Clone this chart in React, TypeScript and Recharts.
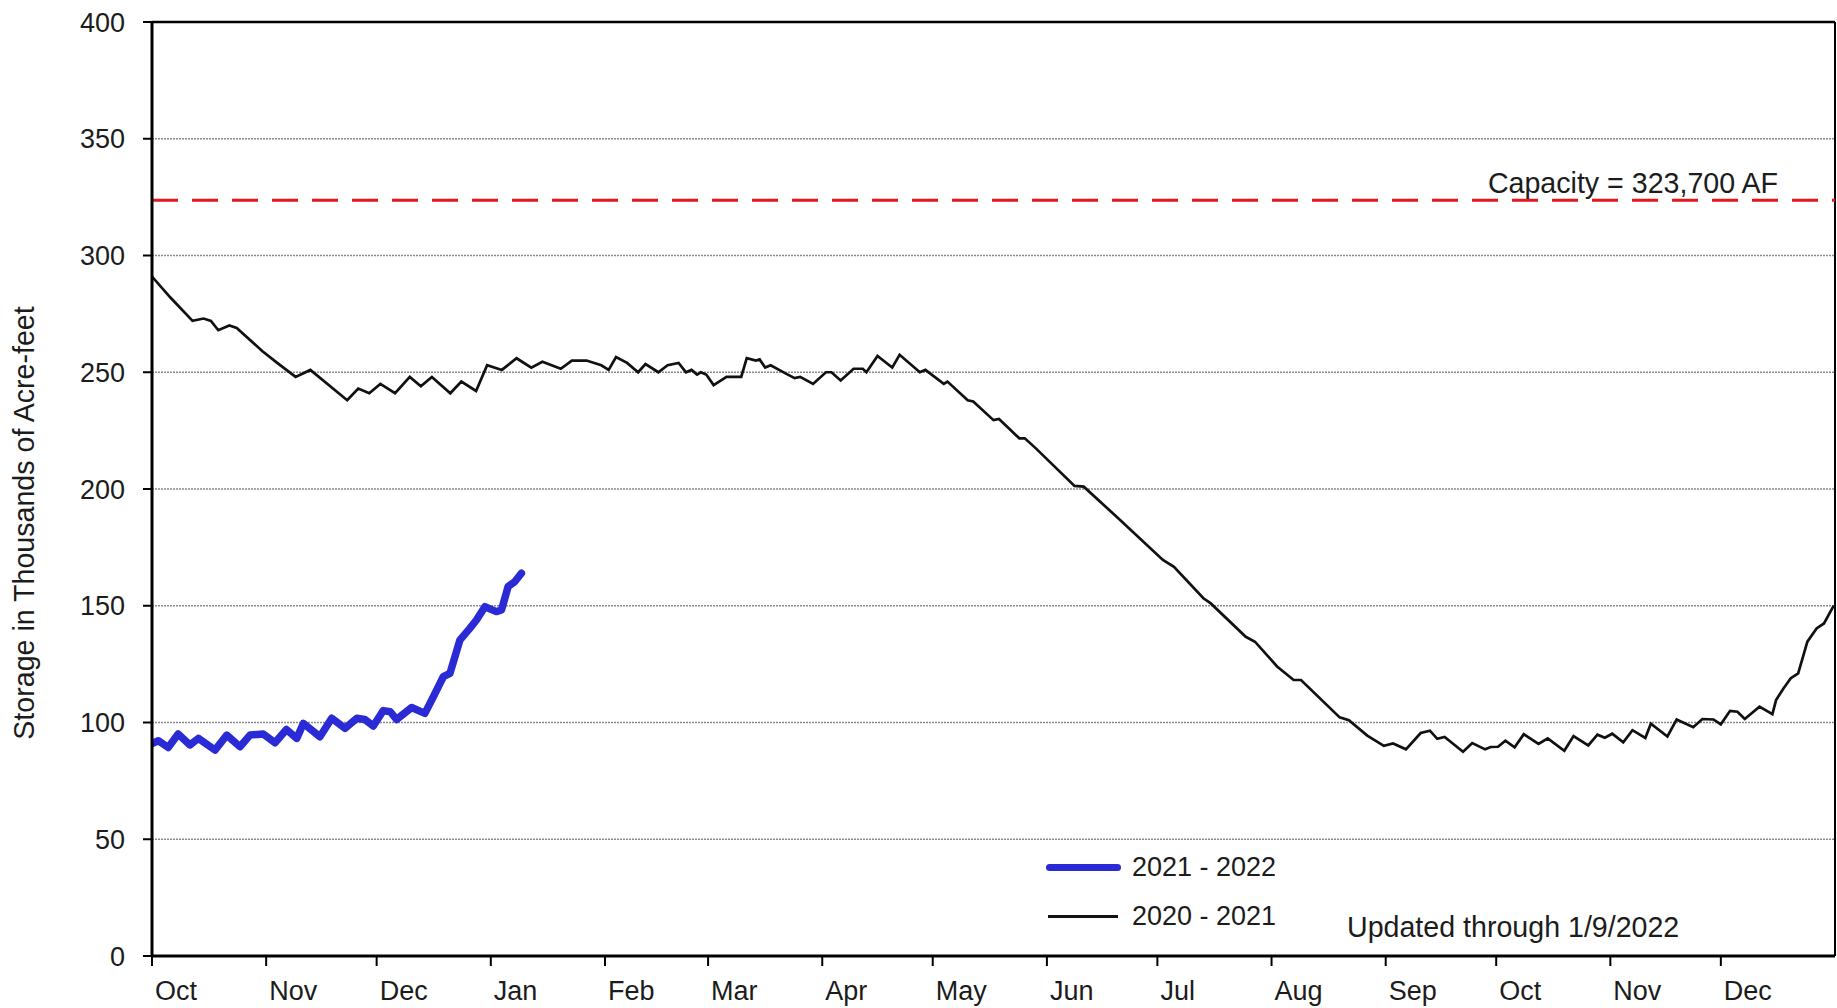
import { FC } from 'react';
import { LineChart, Line, XAxis, YAxis, CartesianGrid, ReferenceLine } from 'recharts';

// days counted from Oct 1 2020
const monthTicks = [0, 31, 61, 92, 123, 151, 182, 212, 243, 273, 304, 335, 365, 396, 426];
const monthLabels = ['Oct', 'Nov', 'Dec', 'Jan', 'Feb', 'Mar', 'Apr', 'May', 'Jun', 'Jul', 'Aug', 'Sep', 'Oct', 'Nov', 'Dec'];
const yTicks = [0, 50, 100, 150, 200, 250, 300, 350, 400];
const capacity = 323.7;

// 2020 - 2021 storage, [day, thousand AF]
const storage2020: [number, number][] = [
  [0, 291], [5, 282], [11, 272], [14, 273], [16, 272], [18, 268], [21, 270], [23, 269],
  [30, 259], [34, 254], [39, 248], [43, 251], [53, 238], [56, 243], [59, 241], [62, 245],
  [66, 241], [70, 248], [73, 244], [76, 248], [81, 241], [84, 246], [88, 242], [91, 253],
  [95, 251], [99, 256], [103, 252], [106, 254.5], [111, 251.5], [114, 255], [118, 255],
  [122, 253], [124, 251], [126, 256.5], [129, 254], [132, 250], [134, 253.5], [137.5, 250],
  [140, 253], [143, 254], [145, 250], [146.5, 251], [148, 249], [149, 250], [150.5, 249],
  [152.5, 244.5], [154, 246], [156, 248], [160, 248], [161.5, 256], [164, 255], [165, 255.5],
  [166.5, 252], [168, 253], [172, 249.5], [174.5, 247.5], [176, 248], [179.5, 245], [183, 250],
  [184.5, 250], [187, 246.5], [190.5, 251.5], [193, 251.5], [194, 250], [197, 257], [201, 252],
  [203, 257.5], [208.5, 250], [210, 251], [215, 245], [216, 246], [221.5, 238], [223, 237.5],
  [228.5, 229.5], [230, 230], [235.5, 221.7], [237, 221.7], [240, 217.4], [250.5, 201.3],
  [253, 201], [262, 188], [274.5, 169.6], [277.5, 166.7], [285.5, 153.2], [287.5, 151],
  [297, 136.7], [299.5, 134.6], [305.5, 124], [310, 118.2], [312, 118.2], [322.5, 102.2],
  [325, 101], [330, 94.4], [334.5, 90], [337, 91], [340.5, 88.5], [344.5, 95.5], [347, 96.5],
  [349, 93], [351, 93.8], [356, 87.5], [358.5, 91.2], [362, 88.5], [363.5, 89.5], [365.5, 89.6],
  [367.5, 92.2], [370, 89.4], [372.5, 95], [376.5, 90.8], [379, 93.2], [383.5, 87.9], [386, 94.2],
  [390, 90.2], [392.5, 94.8], [394.5, 93.5], [396.5, 95.2], [399.5, 91.5], [402, 96.7],
  [405.5, 93.4], [407, 99.5], [411.5, 94], [414, 101.3], [418.5, 98], [421, 101.5], [424, 101.3],
  [426, 99.2], [428.5, 105], [430.5, 104.6], [432.5, 101.5], [436.5, 106.8], [440, 103.6],
  [441, 109.6], [443, 114.6], [445, 119], [447, 121], [449.5, 134.6], [452, 140.3], [454, 142.4],
  [456.5, 149.6], [457, 150],
];

// 2021 - 2022 storage, [day from Oct 1 2021, thousand AF]
const storage2021: [number, number][] = [
  [0, 91], [1.7, 92.2], [4.4, 89.3], [7.1, 95.1], [10.3, 90.4], [12.6, 93.2], [17.1, 88.2],
  [20.3, 94.6], [23.9, 89.6], [26.6, 94.6], [30.2, 95.1], [33.4, 91.3], [36.5, 97], [39.3, 93.2],
  [41.1, 99.6], [45.6, 93.9], [48.8, 101.8], [52.4, 97.5], [55.6, 101.8], [57.8, 101.3],
  [60.1, 98.5], [62.8, 105.1], [64.7, 104.6], [66.4, 101.3], [70.5, 106.4], [74.1, 103.9],
  [76.4, 111], [79.1, 119.6], [80.9, 121], [83.6, 135.3], [86.3, 140.3], [88.1, 143.9],
  [90.4, 149.6], [93.5, 147.5], [94.9, 148.2], [96.7, 158.2], [98.5, 160.3], [100.3, 163.9],
];

const blackData = storage2020.map(([day, v]) => ({ day, v }));
const blueData = storage2021.map(([day, v]) => ({ day, v }));

const FONT = 27;
const FONT_WIDE = 28.6;
const TEXT = '#1c1c1c';

const MonthTick: FC<any> = ({ x, y, payload }) => (
  <text x={x + 3} y={y} dy="0.72em" fontSize={FONT} fill={TEXT} textAnchor="start">
    {monthLabels[monthTicks.indexOf(payload.value)]}
  </text>
);

const YTitle: FC<any> = () => (
  <text
    x={24}
    y={523}
    transform="rotate(-90 24 523)"
    textAnchor="middle"
    dominantBaseline="central"
    fontSize={FONT_WIDE}
    fill={TEXT}
  >
    Storage in Thousands of Acre-feet
  </text>
);

const CapacityLabel: FC<any> = ({ viewBox }) => (
  <text x={viewBox.x + viewBox.width - 57} y={viewBox.y - 7} textAnchor="end" fontSize={FONT_WIDE} fill={TEXT}>
    Capacity = 323,700 AF
  </text>
);

export default function App() {
  return (
    <div
      style={{
        position: 'relative',
        width: 1837,
        height: 1008,
        background: '#fff',
        fontFamily: '"Liberation Sans", Arial, sans-serif',
      }}
    >
      <style>{'body{margin:0}'}</style>
      <LineChart width={1837} height={1008} margin={{ top: 22, right: 2, bottom: 0, left: 0 }}>
        <CartesianGrid
          horizontal
          vertical={false}
          stroke="#8a8a8a"
          strokeWidth={1.5}
          strokeDasharray="2 1"
        />
        <XAxis
          dataKey="day"
          type="number"
          domain={[0, 457]}
          ticks={monthTicks}
          interval={0}
          height={52}
          tickSize={10}
          tickMargin={15}
          axisLine={{ stroke: '#000', strokeWidth: 3 }}
          tickLine={{ stroke: '#000', strokeWidth: 2 }}
          tick={<MonthTick />}
          allowDataOverflow
        />
        <YAxis
          type="number"
          domain={[0, 400]}
          ticks={yTicks}
          interval={0}
          width={152}
          tickSize={9}
          tickMargin={18}
          axisLine={{ stroke: '#000', strokeWidth: 3 }}
          tickLine={{ stroke: '#000', strokeWidth: 2 }}
          tick={{ fontSize: FONT, fill: TEXT }}
          label={<YTitle />}
        />
        <ReferenceLine y={400} stroke="#000" strokeWidth={2.5} />
        <ReferenceLine x={457} stroke="#000" strokeWidth={2} />
        <ReferenceLine
          y={capacity}
          stroke="#e5161d"
          strokeWidth={3}
          strokeDasharray="26 14"
          label={<CapacityLabel />}
        />
        <Line
          data={blackData}
          dataKey="v"
          type="linear"
          stroke="#111"
          strokeWidth={2.7}
          dot={false}
          isAnimationActive={false}
        />
        <Line
          data={blueData}
          dataKey="v"
          type="linear"
          stroke="#2b2bd6"
          strokeWidth={7.5}
          strokeLinecap="round"
          strokeLinejoin="round"
          dot={false}
          isAnimationActive={false}
        />
      </LineChart>

      <div style={{ position: 'absolute', left: 1046, top: 864, width: 75, height: 7, borderRadius: 4, background: '#2b2bd6' }} />
      <div style={{ position: 'absolute', left: 1132, top: 852, lineHeight: '30px', fontSize: FONT, color: TEXT }}>2021 - 2022</div>
      <div style={{ position: 'absolute', left: 1048, top: 915, width: 70, height: 3, background: '#111' }} />
      <div style={{ position: 'absolute', left: 1132, top: 901, lineHeight: '30px', fontSize: FONT, color: TEXT }}>2020 - 2021</div>
      <div style={{ position: 'absolute', left: 1347, top: 912, lineHeight: '30px', fontSize: FONT_WIDE, color: TEXT }}>
        Updated through 1/9/2022
      </div>
    </div>
  );
}
